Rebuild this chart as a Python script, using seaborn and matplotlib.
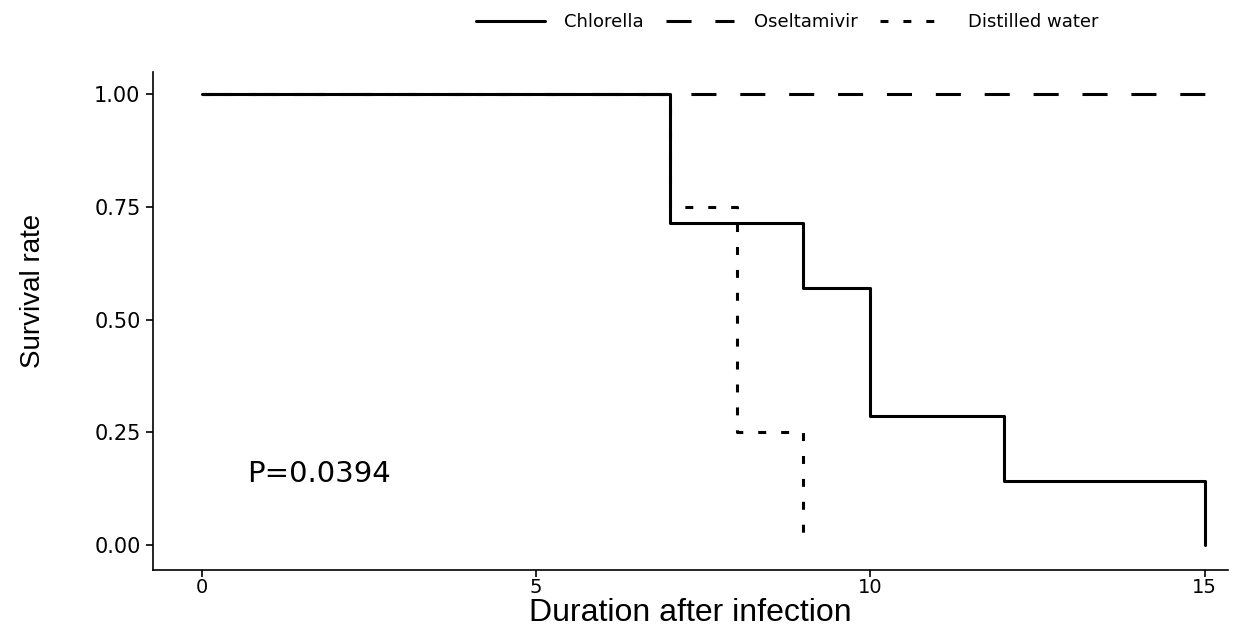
import pandas as pd
import matplotlib.pyplot as plt
import seaborn as sns

# Kaplan-Meier style step data (days, survival)
chlorella_t = [0, 7, 9, 10, 12, 15]
chlorella_s = [1.0, 0.714, 0.571, 0.286, 0.143, 0.0]
oseltamivir_t = [0, 15]
oseltamivir_s = [1.0, 1.0]
water_t = [0, 7, 8, 9]
water_s = [1.0, 0.75, 0.25, 0.0]

groups = ["Chlorella", "Oseltamivir", "Distilled water"]
p_text = "P=0.0394"

df = pd.concat([
    pd.DataFrame({"day": chlorella_t, "surv": chlorella_s, "group": groups[0]}),
    pd.DataFrame({"day": oseltamivir_t, "surv": oseltamivir_s, "group": groups[1]}),
    pd.DataFrame({"day": water_t, "surv": water_s, "group": groups[2]}),
])

sns.set_style("white")
plt.rcParams['font.family'] = ['DejaVu Sans']
plt.rcParams['text.color'] = 'black'
plt.rcParams['axes.labelcolor'] = 'black'
plt.rcParams['xtick.color'] = 'black'
plt.rcParams['ytick.color'] = 'black'

fig = plt.figure(figsize=(12.45, 6.3), dpi=100)
ax = fig.add_axes([0.1229, 0.0952, 0.8634, 0.7905])

lw = 2.2
styles = {
    "Chlorella": "-",
    "Oseltamivir": (0, (8.2, 7.8)),
    "Distilled water": (0, (2.6, 4.9)),
}
# draw water first so Chlorella sits on top
for g in ["Distilled water", "Oseltamivir", "Chlorella"]:
    sub = df[df["group"] == g]
    sns.lineplot(data=sub, x="day", y="surv", ax=ax, color="black", lw=lw,
                 drawstyle="steps-post", label=g, linestyle=styles[g])

ax.set_xlim(-0.73, 15.35)
ax.set_ylim(-0.055, 1.049)
ax.set_xticks([0, 5, 10, 15])
ax.set_yticks([0, 0.25, 0.5, 0.75, 1.0])
ax.set_yticklabels(["0.00", "0.25", "0.50", "0.75", "1.00"])
ax.tick_params(axis="both", length=5, width=1.2,
               direction="out", bottom=True, left=True)
ax.tick_params(axis="x", pad=1, labelsize=14)
ax.tick_params(axis="y", pad=4, labelsize=15)
for side in ["top", "right"]:
    ax.spines[side].set_visible(False)
for side in ["left", "bottom"]:
    ax.spines[side].set_color("black")
    ax.spines[side].set_linewidth(1.2)

ax.set_xlabel("Duration after infection", fontsize=23, family="Liberation Sans")
ax.xaxis.set_label_coords(0.5, -0.056)
ax.set_ylabel("Survival rate", fontsize=20, family="Liberation Sans")
ax.yaxis.set_label_coords(-0.1, 0.56)

ax.text(0.68, 0.157, p_text, fontsize=21, va="center", ha="left")

handles, labels = ax.get_legend_handles_labels()
order = [labels.index(g) for g in groups]
ax.legend([handles[i] for i in order], [labels[i] for i in order],
          loc="center", bbox_to_anchor=(0.59, 1.10), ncol=3, frameon=False,
          prop={"family": "DejaVu Sans", "size": 13},
          handlelength=3.8, columnspacing=1.2, handletextpad=1.1)

fig.savefig("out.png", dpi=100, facecolor="white")
